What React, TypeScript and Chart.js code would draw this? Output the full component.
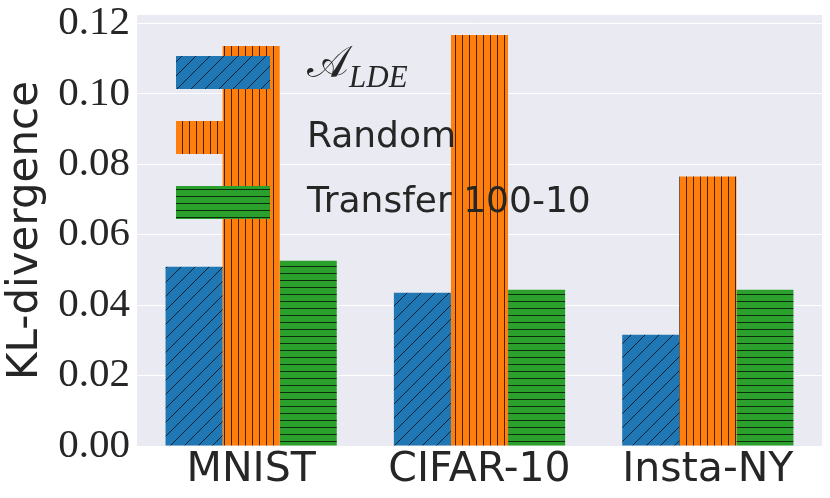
import React, { useEffect, useRef } from 'react';
import { Chart, registerables } from 'chart.js';
Chart.register(...registerables);

const categories = ['MNIST', 'CIFAR-10', 'Insta-NY'];
const aldeValues = [0.0509, 0.0435, 0.0316];
const randomValues = [0.1136, 0.1167, 0.0765];
const transferValues = [0.0526, 0.0444, 0.0444];
const legendMain = ['𝒜', 'Random', 'Transfer 100-10'];
const legendSub = ['LDE', '', ''];
const seriesColors = ['#1f77b4', '#ff7f0e', '#2ca02c'];
const hatchKinds = ['diag', 'vert', 'horiz'];
const yTickValues = [0, 0.02, 0.04, 0.06, 0.08, 0.1, 0.12];

function makePattern(ctx: CanvasRenderingContext2D, kind: string, color: string) {
  const c = document.createElement('canvas');
  const s = kind === 'diag' ? 14 : 7;
  c.width = s;
  c.height = s;
  const g = c.getContext('2d') as CanvasRenderingContext2D;
  g.fillStyle = color;
  g.fillRect(0, 0, s, s);
  g.strokeStyle = 'rgba(0,0,0,0.72)';
  g.lineWidth = 1;
  g.beginPath();
  if (kind === 'diag') {
    g.moveTo(0, s);
    g.lineTo(s, 0);
    g.moveTo(-2, 2);
    g.lineTo(2, -2);
    g.moveTo(s - 2, s + 2);
    g.lineTo(s + 2, s - 2);
  } else if (kind === 'vert') {
    g.moveTo(0.5, 0);
    g.lineTo(0.5, s);
  } else {
    g.moveTo(0, 0.5);
    g.lineTo(s, 0.5);
  }
  g.stroke();
  return ctx.createPattern(c, 'repeat') as CanvasPattern;
}

export default function App() {
  const ref = useRef<HTMLCanvasElement>(null);
  useEffect(() => {
    document.body.style.margin = '0';
    const canvas = ref.current as HTMLCanvasElement;
    const ctx = canvas.getContext('2d') as CanvasRenderingContext2D;
    const patterns = hatchKinds.map((k, i) => makePattern(ctx, k, seriesColors[i]));
    const values = [aldeValues, randomValues, transferValues];

    const legendPlugin = {
      id: 'customLegend',
      afterDraw(chart: any) {
        const c = chart.ctx as CanvasRenderingContext2D;
        const area = chart.chartArea;
        c.save();
        legendMain.forEach((lab, i) => {
          const top = area.top + 41 + i * 65;
          const left = area.left + 39;
          c.fillStyle = patterns[i];
          c.fillRect(left, top, 94, 33);
          c.fillStyle = '#262626';
          c.textBaseline = 'middle';
          const tx = area.left + 170;
          const ty = top + 17;
          if (legendSub[i]) {
            c.font = '44px "DejaVu Serif"';
            c.fillText(lab, tx, ty - 7);
            const w = c.measureText(lab).width;
            c.font = 'italic 31px "Liberation Serif"';
            c.fillText(legendSub[i], tx + w, ty + 6);
          } else {
            c.font = '36px "DejaVu Sans"';
            c.fillText(lab, tx, ty);
          }
        });
        c.restore();
      },
    };

    const bgPlugin = {
      id: 'bg',
      beforeDraw(chart: any) {
        const c = chart.ctx;
        const a = chart.chartArea;
        c.save();
        c.fillStyle = '#eaeaf2';
        c.fillRect(a.left, a.top, a.right - a.left, a.bottom - a.top);
        c.restore();
      },
    };

    const chart = new Chart(canvas, {
      type: 'bar',
      data: {
        labels: categories,
        datasets: values.map((v, i) => ({
          label: legendMain[i] + legendSub[i],
          data: v,
          backgroundColor: patterns[i],
          borderWidth: 0,
          categoryPercentage: 0.75,
          barPercentage: 1,
        })),
      },
      options: {
        animation: false,
        responsive: false,
        layout: { padding: { top: 0, right: 8, bottom: 0, left: 0 } },
        plugins: { legend: { display: false }, tooltip: { enabled: false } },
        scales: {
          x: {
            grid: { display: false, drawTicks: false },
            border: { display: false },
            ticks: { color: '#262626', font: { family: 'DejaVu Sans', size: 41 }, padding: 0 },
            afterFit(scale: any) { scale.height = 52; },
          },
          y: {
            min: 0,
            max: 0.1224,
            grid: { color: '#ffffff', lineWidth: 1, drawTicks: false },
            border: { display: false },
            afterBuildTicks(scale: any) {
              scale.ticks = yTickValues.map((v) => ({ value: v }));
            },
            ticks: {
              color: '#262626',
              font: { family: 'Liberation Serif', size: 41, lineHeight: 0.39 },
              padding: 7,
              callback: (v: any) => Number(v).toFixed(2),
            },
            title: {
              display: true,
              text: 'KL-divergence',
              color: '#262626',
              font: { family: 'DejaVu Sans', size: 42 },
              padding: { top: 1, bottom: 0 },
            },
            afterFit(scale: any) { scale.width = 137; },
          },
        },
      },
      plugins: [bgPlugin, legendPlugin],
    });
    return () => chart.destroy();
  }, []);
  return <canvas ref={ref} width={830} height={498} style={{ display: 'block' }} />;
}
